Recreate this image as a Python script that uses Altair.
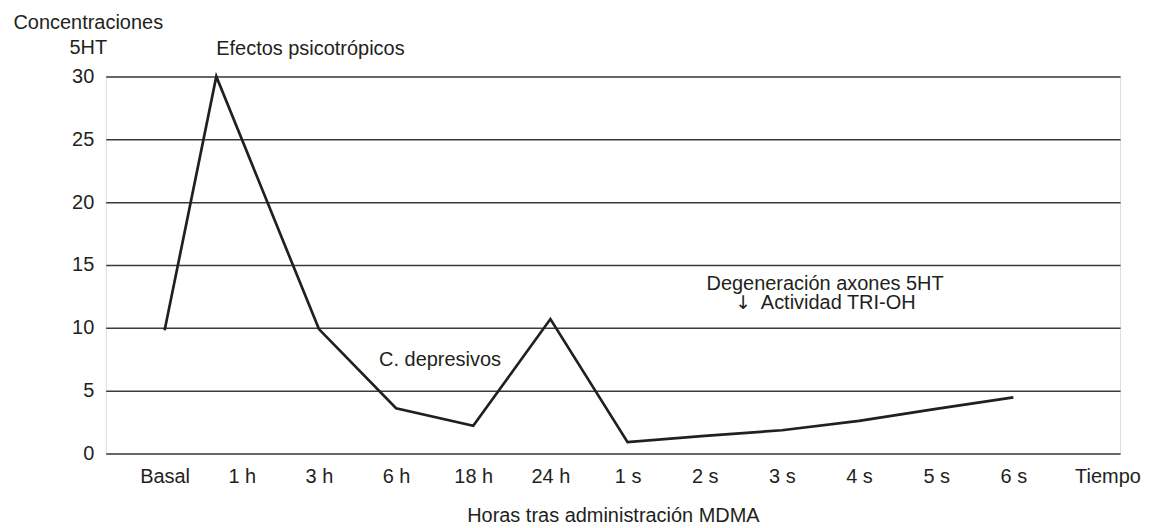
import altair as alt
import pandas as pd

# x positions (category index) and concentration values of the curve
pos = [0, 0.67, 2, 3, 4, 5, 6, 7, 8, 9, 10, 11]
vals = [9.8, 30, 9.9, 3.6, 2.2, 10.7, 0.9, 1.4, 1.85, 2.6, 3.55, 4.47]

tick_labels = ["Basal", "1 h", "3 h", "6 h", "18 h", "24 h",
               "1 s", "2 s", "3 s", "4 s", "5 s", "6 s"]
tiempo_pos = 12.22

ann_text = ["Efectos psicotrópicos", "C. depresivos",
            "Degeneración axones 5HT", "Actividad TRI-OH"]
ann_x = [1.89, 3.57, 8.56, 8.73]
ann_y = [32.2, 7.45, 13.5, 12.0]

arrow_text = ["↓"]
arrow_x = [7.5]
arrow_y = [12.0]

FONT = "Liberation Sans"
INK = "#231f20"

curve = pd.DataFrame({"x": pos, "y": vals})
ann = pd.DataFrame({"t": ann_text, "x": ann_x, "y": ann_y})
arr = pd.DataFrame({"t": arrow_text, "x": arrow_x, "y": arrow_y})

label_expr = ("datum.value > 12 ? 'Tiempo' : "
              + "[" + ",".join("'%s'" % t for t in tick_labels) + "][datum.value]")

xscale = alt.Scale(domain=[-0.763, 12.383], nice=False, zero=False)
yscale = alt.Scale(domain=[0, 30], nice=False)

line = alt.Chart(curve).mark_line(color=INK, strokeWidth=2.7, strokeJoin="miter").encode(
    x=alt.X("x:Q", scale=xscale,
            axis=alt.Axis(values=list(range(12)) + [tiempo_pos], labelExpr=label_expr,
                          grid=False, domain=False, ticks=False, labelPadding=13,
                          labelFlush=False, labelOverlap=False, labelFontSize=20,
                          labelFont=FONT, labelColor=INK,
                          title="Horas tras administración MDMA", titleFont=FONT,
                          titleFontSize=20, titleFontWeight="normal", titleColor=INK,
                          titlePadding=19)),
    y=alt.Y("y:Q", scale=yscale,
            axis=alt.Axis(values=[0, 5, 10, 15, 20, 25, 30], grid=True, gridColor="#3a3a3a",
                          gridWidth=1.5, domain=False, ticks=False, labelPadding=12,
                          labelFontSize=20, labelFont=FONT, labelColor=INK,
                          title=["Concentraciones", "5HT"], titleAngle=0, titleAlign="center",
                          titleBaseline="top", titleX=-18, titleY=-64, titleLineHeight=25,
                          titleFont=FONT, titleFontSize=20, titleFontWeight="normal",
                          titleColor=INK)),
)

texts = alt.Chart(ann).mark_text(font=FONT, fontSize=20, color=INK, align="center",
                                 baseline="middle").encode(
    x=alt.X("x:Q", scale=xscale),
    y=alt.Y("y:Q", scale=yscale),
    text="t:N",
)

arrow = alt.Chart(arr).mark_text(font="DejaVu Sans", fontSize=19, color=INK, align="center",
                                 baseline="middle").encode(
    x=alt.X("x:Q", scale=xscale),
    y=alt.Y("y:Q", scale=yscale),
    text="t:N",
)

chart = alt.layer(line, texts, arrow).properties(
    width=1017, height=378,
    autosize=alt.AutoSizeParams(type="none"),
    padding={"left": 98, "top": 68, "right": 25, "bottom": 74},
).configure_view(stroke=None).configure(background="white")

chart.save("out.html", embed_options={"renderer": "svg", "actions": False})
